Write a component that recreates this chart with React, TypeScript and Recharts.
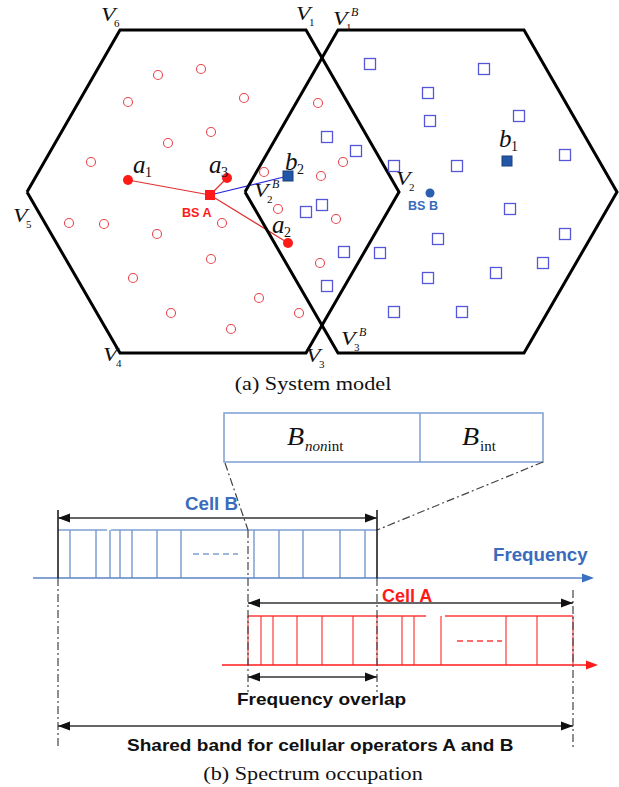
import React from 'react';
import { ScatterChart, Scatter, XAxis, YAxis, ReferenceLine, ReferenceArea } from 'recharts';

const W = 619;
const H = 787;

// ---------- (a) System model ----------
const hexagonA = [
  { x: 27, y: 192 }, { x: 120, y: 30 }, { x: 306, y: 30 }, { x: 399, y: 192 },
  { x: 306, y: 353 }, { x: 120, y: 353 }, { x: 27, y: 192 },
];
const hexagonB = [
  { x: 245, y: 192 }, { x: 338, y: 30 }, { x: 524, y: 30 }, { x: 617, y: 192 },
  { x: 524, y: 353 }, { x: 338, y: 353 }, { x: 245, y: 192 },
];
const usersA = [
  { x: 158, y: 75 }, { x: 201, y: 69 }, { x: 128, y: 102 }, { x: 244, y: 98 }, { x: 211, y: 132 },
  { x: 168, y: 143 }, { x: 91, y: 162 }, { x: 264, y: 172 }, { x: 318, y: 103 }, { x: 321, y: 176 },
  { x: 343, y: 162 }, { x: 69, y: 223 }, { x: 104, y: 224 }, { x: 157, y: 234 }, { x: 222, y: 223 },
  { x: 278, y: 209 }, { x: 211, y: 259 }, { x: 133, y: 278 }, { x: 259, y: 298 }, { x: 299, y: 313 },
  { x: 171, y: 313 }, { x: 231, y: 329 }, { x: 320, y: 263 }, { x: 336, y: 219 },
];
const usersB = [
  { x: 370, y: 64 }, { x: 484, y: 69 }, { x: 428, y: 93 }, { x: 430, y: 121 }, { x: 519, y: 116 },
  { x: 327, y: 137 }, { x: 356, y: 151 }, { x: 394, y: 166 }, { x: 457, y: 166 }, { x: 565, y: 155 },
  { x: 510, y: 209 }, { x: 322, y: 205 }, { x: 306, y: 212 }, { x: 438, y: 239 }, { x: 565, y: 234 },
  { x: 344, y: 252 }, { x: 380, y: 253 }, { x: 543, y: 263 }, { x: 496, y: 273 }, { x: 428, y: 278 },
  { x: 327, y: 286 }, { x: 394, y: 312 }, { x: 462, y: 312 },
];
const activeA = [{ x: 128, y: 180 }, { x: 227, y: 178 }, { x: 288, y: 243 }];
const activeB = [{ x: 507, y: 161 }, { x: 288, y: 176 }];
const baseStationA = [{ x: 210, y: 195 }];
const baseStationB = [{ x: 430, y: 193 }];
const linksA = [
  { x1: 128, y1: 180, x2: 210, y2: 195 },
  { x1: 227, y1: 178, x2: 210, y2: 195 },
  { x1: 288, y1: 243, x2: 210, y2: 195 },
];
const linksB = [{ x1: 210, y1: 195, x2: 288, y2: 176 }];

const vertexLabels = [
  { x: 101, y: 21, sub: '6', sup: '' },
  { x: 296, y: 20, sub: '1', sup: '' },
  { x: 333, y: 25, sub: '1', sup: 'B' },
  { x: 13, y: 222, sub: '5', sup: '' },
  { x: 103, y: 361, sub: '4', sup: '' },
  { x: 306, y: 362, sub: '3', sup: '' },
  { x: 341, y: 345, sub: '3', sup: 'B' },
  { x: 396, y: 185, sub: '2', sup: '' },
  { x: 254, y: 197, sub: '2', sup: 'B' },
];
const userLabels = [
  { x: 133, y: 173, main: 'a', sub: '1' },
  { x: 209, y: 173, main: 'a', sub: '3' },
  { x: 272, y: 233, main: 'a', sub: '2' },
  { x: 285, y: 170, main: 'b', sub: '2' },
  { x: 499, y: 147, main: 'b', sub: '1' },
];
const stationLabelsA = [{ x: 182, y: 217, text: 'BS A' }];
const stationLabelsB = [{ x: 408, y: 210, text: 'BS B' }];

// ---------- (b) Spectrum occupation ----------
const zoomBox = { x1: 224, y1: 413, x2: 543, y2: 462 };
const zoomDivider = [{ x1: 420, y1: 413, x2: 420, y2: 462 }];
const bandLabels = [
  { x: 287, y: 445, subItalic: 'non', sub: 'int' },
  { x: 462, y: 445, subItalic: '', sub: 'int' },
];

const cellBTop = [
  { x1: 58, y1: 530, x2: 107, y2: 530 },
  { x1: 111, y1: 530, x2: 377, y2: 530 },
];
const cellBDividers = [70, 96, 110, 120, 132, 157, 181, 254, 279, 303, 340, 365];
const cellBDash = [{ x1: 193, y1: 554, x2: 238, y2: 554 }];
const blueAxis = [{ x1: 33, y1: 578, x2: 584, y2: 578 }];
const blueTips = [{ x: 594, y: 578, dir: 1 }];

const cellATop = [
  { x1: 248, y1: 616, x2: 426, y2: 616 },
  { x1: 445, y1: 616, x2: 573, y2: 616 },
];
const cellADividers = [248, 261, 273, 297, 322, 353, 377, 402, 414, 441, 506, 537, 573];
const cellADash = [{ x1: 457, y1: 641, x2: 502, y2: 641 }];
const redAxis = [{ x1: 222, y1: 665, x2: 588, y2: 665 }];
const redTips = [{ x: 598, y: 665, dir: 1 }];

const dashDot = [
  { x1: 58, y1: 578, x2: 58, y2: 748 },
  { x1: 248, y1: 530, x2: 248, y2: 692 },
  { x1: 377, y1: 578, x2: 377, y2: 692 },
  { x1: 573, y1: 590, x2: 573, y2: 748 },
  { x1: 225, y1: 463, x2: 248, y2: 530 },
  { x1: 543, y1: 462, x2: 377, y2: 530 },
];
const solidTicks = [
  { x1: 58, y1: 510, x2: 58, y2: 578 },
  { x1: 377, y1: 510, x2: 377, y2: 578 },
];
const arrows = [
  { x1: 58, x2: 377, y: 518 },
  { x1: 248, x2: 573, y: 603 },
  { x1: 248, x2: 377, y: 677 },
  { x1: 58, x2: 573, y: 726 },
];
const arrowTips = arrows.flatMap((a) => [
  { x: a.x1, y: a.y, dir: -1 },
  { x: a.x2, y: a.y, dir: 1 },
]);

const blueTexts = [
  { x: 185, y: 510, text: 'Cell B' },
  { x: 493, y: 561, text: 'Frequency' },
];
const redTexts = [{ x: 382, y: 602, text: 'Cell A' }];
const blackTexts = [
  { x: 237, y: 705, text: 'Frequency overlap' },
  { x: 127, y: 751, text: 'Shared band for cellular operators A and B' },
];
const captions = [
  { x: 313, y: 390, text: '(a)  System model' },
  { x: 313, y: 780, text: '(b)  Spectrum occupation' },
];

// ---------- styles ----------
const SERIF = '"Liberation Serif", "Times New Roman", serif';
const SANS = '"Liberation Sans", Arial, sans-serif';
const RED = '#ff1a1a';
const RED_LIGHT = '#e8474f';
const BLUE_SQ = '#5656d8';
const BLUE_TXT = '#3a6bbd';
const BAND_BLUE = '#7c9fd2';
const DD = '8 3 2 3';

const Empty = () => <g />;

const HollowCircle = (p: any) => (
  <circle cx={p.cx} cy={p.cy} r={4.5} fill="none" stroke={RED_LIGHT} strokeWidth={1.1} />
);
const HollowSquare = (p: any) => (
  <rect x={p.cx - 5.5} y={p.cy - 5.5} width={11} height={11} fill="none" stroke={BLUE_SQ} strokeWidth={1.3} />
);
const RedDot = (p: any) => <circle cx={p.cx} cy={p.cy} r={5} fill={RED} />;
const BlueFilledSquare = (p: any) => (
  <rect x={p.cx - 5} y={p.cy - 5} width={10} height={10} fill="#2257a8" stroke="#1b3f7c" strokeWidth={1} />
);
const RedStation = (p: any) => <rect x={p.cx - 5} y={p.cy - 5} width={10} height={10} fill={RED} />;
const BlueStation = (p: any) => <circle cx={p.cx} cy={p.cy} r={4.5} fill="#2a5faf" />;

const VertexLabel = (p: any) => (
  <g transform={`translate(${p.cx},${p.cy})`} fontFamily={SERIF}>
    <text x={0} y={0} fontSize={19} fontStyle="italic" transform="scale(1.25,1)" fill="#111">V</text>
    <text x={13} y={6} fontSize={11} fill="#111">{p.payload.sub}</text>
    {p.payload.sup ? (
      <text x={18} y={-9} fontSize={12} fontStyle="italic" fill="#111">{p.payload.sup}</text>
    ) : null}
  </g>
);
const UserLabel = (p: any) => (
  <g transform={`translate(${p.cx},${p.cy})`} fontFamily={SERIF}>
    <text x={0} y={0} fontSize={25} fontStyle="italic" fill="#111">{p.payload.main}</text>
    <text x={12} y={4} fontSize={14} fill="#111">{p.payload.sub}</text>
  </g>
);
const BandLabel = (p: any) => (
  <g transform={`translate(${p.cx},${p.cy})`} fontFamily={SERIF} fill="#111">
    <text x={0} y={0} fontSize={25} fontStyle="italic" transform="scale(1.12,1)">B</text>
    <text x={18} y={6} fontSize={15}>
      {p.payload.subItalic ? <tspan fontStyle="italic">{p.payload.subItalic}</tspan> : null}
      <tspan>{p.payload.sub}</tspan>
    </text>
  </g>
);
const makeSansLabel = (color: string, size: number, sx: number) => (p: any) => (
  <g transform={`translate(${p.cx},${p.cy}) scale(${sx},1)`}>
    <text x={0} y={0} fontFamily={SANS} fontWeight="bold" fontSize={size} fill={color}>{p.payload.text}</text>
  </g>
);
const StationLabelA = makeSansLabel(RED, 12, 1.05);
const StationLabelB = makeSansLabel(BLUE_TXT, 12, 1.05);
const BlueText = makeSansLabel(BLUE_TXT, 18, 1.04);
const RedText = makeSansLabel(RED, 18, 1.0);
const BlackText = makeSansLabel('#111', 17, 1.12);
const Caption = (p: any) => (
  <g transform={`translate(${p.cx},${p.cy}) scale(1.17,1)`}>
    <text x={0} y={0} textAnchor="middle" fontFamily={SERIF} fontSize={19} fill="#111">{p.payload.text}</text>
  </g>
);
const makeTip = (color: string) => (p: any) => {
  const d = p.payload.dir;
  const L = 12;
  const h = 4.5;
  return (
    <polygon
      points={`${p.cx},${p.cy} ${p.cx - d * L},${p.cy - h} ${p.cx - d * L},${p.cy + h}`}
      fill={color}
    />
  );
};
const BlackTip = makeTip('#111');
const BlueTip = makeTip('#3b6fc0');
const RedTip = makeTip(RED);

const seg = (s: any, key: string, props: any) => (
  <ReferenceLine
    key={key}
    segment={[{ x: s.x1, y: s.y1 }, { x: s.x2, y: s.y2 }]}
    ifOverflow="visible"
    {...props}
  />
);

export default function App() {
  const vertLines = (xs: number[], y1: number, y2: number) => xs.map((x) => ({ x1: x, y1, x2: x, y2 }));
  return (
    <div style={{ position: 'absolute', left: 0, top: 0, width: W, height: H, background: '#fff' }}>
      <ScatterChart width={W} height={H} margin={{ top: 0, right: 0, bottom: 0, left: 0 }}>
        <XAxis type="number" dataKey="x" domain={[0, W]} hide />
        <YAxis type="number" dataKey="y" domain={[0, H]} reversed hide />

        {/* links */}
        {linksA.map((s, i) => seg(s, 'la' + i, { stroke: '#e03030', strokeWidth: 1.2 }))}
        {linksB.map((s, i) => seg(s, 'lb' + i, { stroke: '#2a2ae0', strokeWidth: 1.2 }))}

        {/* spectrum */}
        <ReferenceArea x1={zoomBox.x1} x2={zoomBox.x2} y1={zoomBox.y1} y2={zoomBox.y2} fill="#fff" fillOpacity={1} stroke={BAND_BLUE} strokeWidth={1.5} ifOverflow="visible" />
        {zoomDivider.map((s, i) => seg(s, 'zd' + i, { stroke: BAND_BLUE, strokeWidth: 1.5 }))}
        {cellBTop.map((s, i) => seg(s, 'bt' + i, { stroke: BAND_BLUE, strokeWidth: 1.5 }))}
        {vertLines(cellBDividers, 530, 578).map((s, i) => seg(s, 'bd' + i, { stroke: BAND_BLUE, strokeWidth: 1.5 }))}
        {cellBDash.map((s, i) => seg(s, 'bdash' + i, { stroke: BAND_BLUE, strokeWidth: 1.5, strokeDasharray: '6 4' }))}
        {blueAxis.map((s, i) => seg(s, 'ba' + i, { stroke: '#5b85c6', strokeWidth: 1.6 }))}
        {cellATop.map((s, i) => seg(s, 'at' + i, { stroke: '#ff3b3b', strokeWidth: 1.3 }))}
        {vertLines(cellADividers, 616, 665).map((s, i) => seg(s, 'ad' + i, { stroke: '#ff3b3b', strokeWidth: 1.2 }))}
        {cellADash.map((s, i) => seg(s, 'adash' + i, { stroke: '#ff3b3b', strokeWidth: 1.3, strokeDasharray: '6 4' }))}
        {redAxis.map((s, i) => seg(s, 'ra' + i, { stroke: RED, strokeWidth: 1.6 }))}
        {dashDot.map((s, i) => seg(s, 'dd' + i, { stroke: '#444', strokeWidth: 1.2, strokeDasharray: DD }))}
        {solidTicks.map((s, i) => seg(s, 'st' + i, { stroke: '#111', strokeWidth: 1.5 }))}
        {arrows.map((a, i) => seg({ x1: a.x1, y1: a.y, x2: a.x2, y2: a.y }, 'ar' + i, { stroke: '#333', strokeWidth: 1.5 }))}

        <Scatter data={hexagonA} line={{ stroke: '#000', strokeWidth: 3, strokeLinejoin: 'miter' }} lineType="joint" shape={Empty} isAnimationActive={false} />
        <Scatter data={hexagonB} line={{ stroke: '#000', strokeWidth: 3, strokeLinejoin: 'miter' }} lineType="joint" shape={Empty} isAnimationActive={false} />
        <Scatter data={usersA} shape={HollowCircle} isAnimationActive={false} />
        <Scatter data={usersB} shape={HollowSquare} isAnimationActive={false} />
        <Scatter data={activeA} shape={RedDot} isAnimationActive={false} />
        <Scatter data={activeB} shape={BlueFilledSquare} isAnimationActive={false} />
        <Scatter data={baseStationA} shape={RedStation} isAnimationActive={false} />
        <Scatter data={baseStationB} shape={BlueStation} isAnimationActive={false} />
        <Scatter data={vertexLabels} shape={VertexLabel} isAnimationActive={false} />
        <Scatter data={userLabels} shape={UserLabel} isAnimationActive={false} />
        <Scatter data={stationLabelsA} shape={StationLabelA} isAnimationActive={false} />
        <Scatter data={stationLabelsB} shape={StationLabelB} isAnimationActive={false} />

        <Scatter data={bandLabels} shape={BandLabel} isAnimationActive={false} />
        <Scatter data={arrowTips} shape={BlackTip} isAnimationActive={false} />
        <Scatter data={blueTips} shape={BlueTip} isAnimationActive={false} />
        <Scatter data={redTips} shape={RedTip} isAnimationActive={false} />
        <Scatter data={blueTexts} shape={BlueText} isAnimationActive={false} />
        <Scatter data={redTexts} shape={RedText} isAnimationActive={false} />
        <Scatter data={blackTexts} shape={BlackText} isAnimationActive={false} />
        <Scatter data={captions} shape={Caption} isAnimationActive={false} />
      </ScatterChart>
    </div>
  );
}
